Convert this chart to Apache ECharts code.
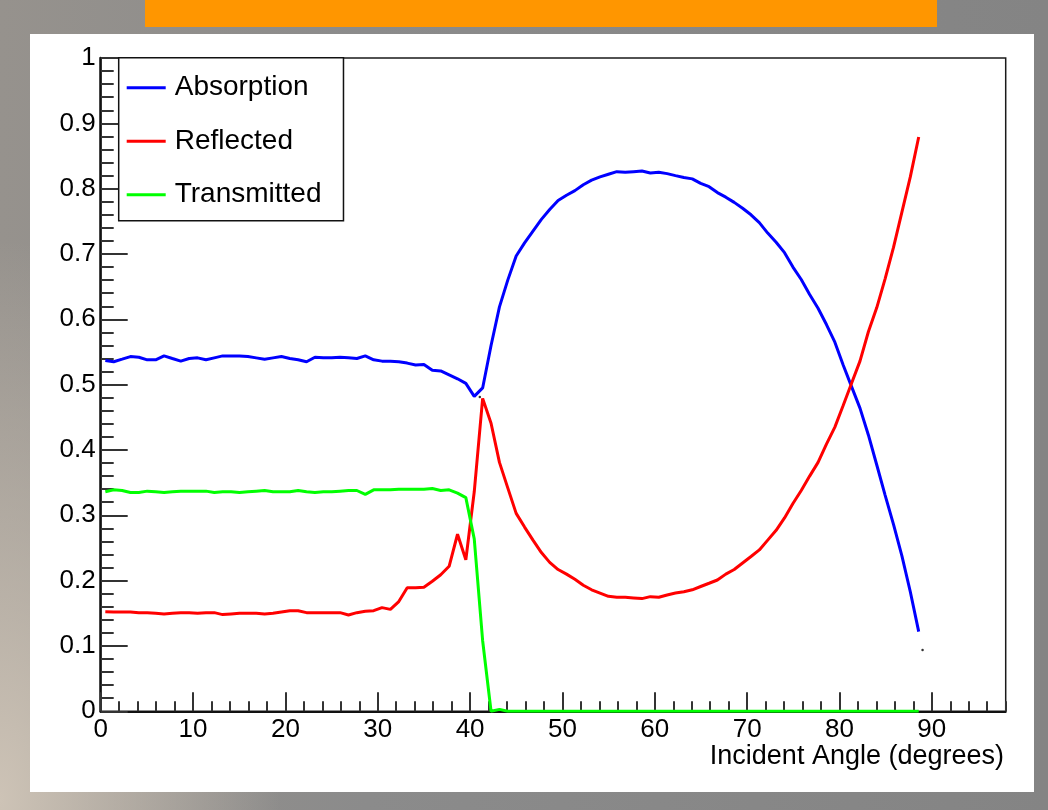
<!DOCTYPE html>
<html>
<head>
<meta charset="utf-8">
<title>Absorption / Reflected / Transmitted vs incident angle</title>
<script src="https://cdn.jsdelivr.net/npm/echarts@6/dist/echarts.min.js"></script>
<style>
  html, body { margin: 0; padding: 0; width: 1048px; height: 810px; overflow: hidden; }
  body {
    position: relative;
    background:
      radial-gradient(ellipse 280px 560px at 0px 800px, rgba(205,195,182,1), rgba(205,195,182,0)),
      linear-gradient(90deg, #96928d 0%, #8b8b8b 35%, #848484 100%);
  }
  #bar { position: absolute; left: 145px; top: 0; width: 792px; height: 27px; background: #ff9600; }
  #paper { position: absolute; left: 30px; top: 34px; width: 1004px; height: 758px; background: #fff; }
  #chart { position: absolute; left: 0; top: 0; width: 1048px; height: 810px; }
</style>
</head>
<body>
<div id="bar"></div>
<div id="paper"></div>
<div id="chart"></div>
<script>
// incident angles (degrees)
const angles = [
  0.50, 1.41, 2.32, 3.22, 4.13, 5.04, 5.95, 6.86, 7.76, 8.67,
  9.58, 10.49, 11.40, 12.30, 13.21, 14.12, 15.03, 15.94, 16.84, 17.75,
  18.66, 19.57, 20.48, 21.38, 22.29, 23.20, 24.11, 25.02, 25.92, 26.83,
  27.74, 28.65, 29.56, 30.46, 31.37, 32.28, 33.19, 34.10, 35.00, 35.91,
  36.82, 37.73, 38.64, 39.54, 40.45, 41.36, 42.27, 43.18, 44.08, 44.99,
  45.90, 46.81, 47.72, 48.62, 49.53, 50.44, 51.35, 52.26, 53.16, 54.07,
  54.98, 55.89, 56.80, 57.70, 58.61, 59.52, 60.43, 61.34, 62.24, 63.15,
  64.06, 64.97, 65.88, 66.78, 67.69, 68.60, 69.51, 70.42, 71.32, 72.23,
  73.14, 74.05, 74.96, 75.86, 76.77, 77.68, 78.59, 79.50, 80.40, 81.31,
  82.22, 83.13, 84.04, 84.94, 85.85, 86.76, 87.67, 88.58
];

const absorption = [
  0.537, 0.535, 0.539, 0.543, 0.542, 0.538, 0.538, 0.544, 0.540, 0.536,
  0.540, 0.541, 0.538, 0.541, 0.544, 0.544, 0.544, 0.543, 0.541, 0.539,
  0.541, 0.543, 0.540, 0.538, 0.535, 0.542, 0.541, 0.541, 0.542, 0.541,
  0.540, 0.544, 0.538, 0.536, 0.536, 0.535, 0.533, 0.530, 0.531, 0.522,
  0.521, 0.515, 0.509, 0.502, 0.482, 0.495, 0.560, 0.619, 0.660, 0.697,
  0.717, 0.735, 0.753, 0.768, 0.782, 0.790, 0.797, 0.806, 0.813, 0.818,
  0.822, 0.826, 0.825, 0.826, 0.827, 0.824, 0.825, 0.823, 0.820, 0.817,
  0.815, 0.808, 0.803, 0.794, 0.787, 0.779, 0.770, 0.760, 0.748, 0.732,
  0.718, 0.702, 0.680, 0.661, 0.638, 0.617, 0.592, 0.565, 0.530, 0.497,
  0.464, 0.423, 0.377, 0.331, 0.286, 0.238, 0.183, 0.122
];

const reflected = [
  0.1525, 0.152, 0.152, 0.152, 0.151, 0.151, 0.150, 0.149, 0.150, 0.151,
  0.151, 0.150, 0.151, 0.151, 0.148, 0.149, 0.150, 0.150, 0.150, 0.149,
  0.150, 0.152, 0.154, 0.154, 0.151, 0.151, 0.151, 0.151, 0.151, 0.1475,
  0.151, 0.153, 0.154, 0.1587, 0.156, 0.168, 0.189, 0.189, 0.190, 0.199,
  0.209, 0.222, 0.271, 0.232, 0.336, 0.479, 0.441, 0.381, 0.342, 0.303,
  0.282, 0.262, 0.243, 0.228, 0.217, 0.210, 0.202, 0.193, 0.186, 0.181,
  0.176, 0.1745, 0.1745, 0.1735, 0.1725, 0.1755, 0.1745, 0.178, 0.181, 0.183,
  0.186, 0.191, 0.196, 0.201, 0.210, 0.217, 0.227, 0.237, 0.247, 0.262,
  0.277, 0.296, 0.318, 0.338, 0.360, 0.381, 0.409, 0.435, 0.468, 0.502,
  0.536, 0.581, 0.618, 0.662, 0.710, 0.764, 0.818, 0.879
];

const transmitted = [
  0.336, 0.339, 0.338, 0.335, 0.335, 0.337, 0.336, 0.335, 0.336, 0.337,
  0.337, 0.337, 0.337, 0.335, 0.336, 0.336, 0.335, 0.336, 0.337, 0.338,
  0.336, 0.336, 0.336, 0.338, 0.336, 0.335, 0.336, 0.336, 0.337, 0.338,
  0.338, 0.332, 0.339, 0.339, 0.339, 0.340, 0.340, 0.340, 0.340, 0.341,
  0.338, 0.339, 0.334, 0.327, 0.264, 0.108, 0, 0.003, 0, 0,
  0, 0, 0, 0, 0, 0, 0, 0, 0, 0,
  0, 0, 0, 0, 0, 0, 0, 0, 0, 0,
  0, 0, 0, 0, 0, 0, 0, 0, 0, 0,
  0, 0, 0, 0, 0, 0, 0, 0, 0, 0,
  0, 0, 0, 0, 0, 0, 0, 0
];

// two stray marker points drawn in the original
const strayX = [41.05, 89.0];
const strayY = [0.481, 0.094];

const names = ['Absorption', 'Reflected', 'Transmitted'];
const colors = ['#0000ff', '#ff0000', '#00ff00'];
const xTitle = 'Incident Angle (degrees)';
const FONT = 'Liberation Sans, Arial, Helvetica, sans-serif';

function pairs(xs, ys) {
  return xs.map((x, i) => [x, ys[i]]);
}

const chart = echarts.init(document.getElementById('chart'));

const tickStyle = { color: '#333', width: 2 };

chart.setOption({
  animation: false,
  backgroundColor: 'transparent',
  textStyle: { fontFamily: FONT },
  grid: {
    left: 100.7, top: 58, width: 905, height: 653.3,
    outerBoundsMode: 'none',
    containLabel: false,
    show: true, borderColor: '#1a1a1a', borderWidth: 1.5,
    backgroundColor: 'transparent'
  },
  legend: {
    data: names,
    orient: 'vertical',
    left: 118.7,
    top: 57.7,
    icon: 'rect',
    itemWidth: 39,
    itemHeight: 3,
    itemGap: 25.5,
    padding: [16, 22, 12, 8],
    backgroundColor: '#fff',
    borderColor: '#111',
    borderWidth: 1.5,
    borderRadius: 0,
    selectedMode: false,
    textStyle: { fontSize: 28, lineHeight: 28, color: '#000', fontFamily: FONT, padding: [0, 0, 0, 4] }
  },
  // x-axis title, right-aligned under the axis end like ROOT does
  graphic: [{
    type: 'text',
    right: 44,
    top: 743,
    silent: true,
    style: { text: xTitle, fill: '#000', font: '27px ' + FONT }
  }],
  xAxis: [
    {
      type: 'value', min: 0, max: 98, interval: 10, position: 'bottom',
      axisLine: { show: true, onZero: false, lineStyle: { color: '#111', width: 2 } },
      axisTick: { show: true, inside: true, length: 19, lineStyle: tickStyle },
      axisLabel: { showMaxLabel: false, margin: 6, color: '#000', fontSize: 26, fontFamily: FONT },
      splitLine: { show: false }
    },
    {
      type: 'value', min: 0, max: 98, interval: 2, position: 'bottom',
      axisLine: { show: false },
      axisTick: { show: true, inside: true, length: 10, lineStyle: tickStyle },
      axisLabel: { show: false },
      splitLine: { show: false }
    }
  ],
  yAxis: {
    type: 'value', min: 0, max: 1, interval: 0.1,
    axisLine: { show: true, onZero: false, lineStyle: { color: '#111', width: 2.5 } },
    axisTick: { show: true, inside: true, length: 27, lineStyle: tickStyle },
    minorTick: { show: true, splitNumber: 5, length: 13, lineStyle: tickStyle },
    axisLabel: { margin: 5, color: '#000', fontSize: 26, fontFamily: FONT, padding: [5, 0, 0, 0] },
    splitLine: { show: false },
    minorSplitLine: { show: false }
  },
  series: [
    ...names.map((n, k) => ({
      name: n,
      type: 'line',
      xAxisIndex: 0,
      data: pairs(angles, [absorption, reflected, transmitted][k]),
      showSymbol: false,
      symbol: 'none',
      lineStyle: { color: colors[k], width: 3 },
      itemStyle: { color: colors[k] },
      z: 3 + k
    })),
    {
      name: 'stray',
      type: 'scatter',
      xAxisIndex: 0,
      data: pairs(strayX, strayY),
      symbolSize: 2.5,
      itemStyle: { color: '#000' },
      silent: true,
      z: 2
    }
  ]
});
</script>
</body>
</html>
